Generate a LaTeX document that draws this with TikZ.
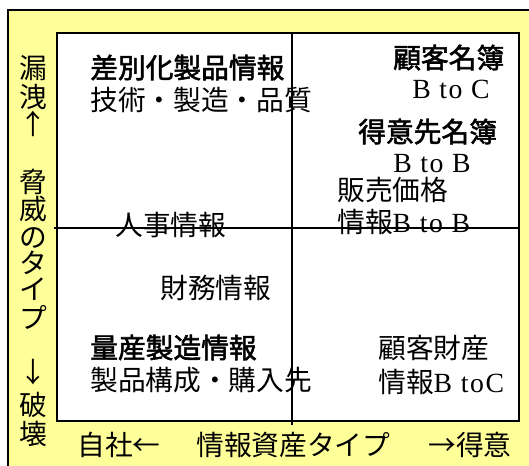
\documentclass[tikz,border=0pt]{standalone}
\usepackage{fontspec}
\setmainfont{Liberation Serif}
\newfontfamily\cjk{Noto Sans CJK JP}
\newfontfamily\cjkb{Noto Sans CJK JP}[BoldFont=*,AutoFakeBold=2]
\definecolor{bgyellow}{HTML}{FFFF99}
\newcommand{\lat}[1]{{\rmfamily\addfontfeatures{LetterSpace=6}#1}}
\begin{document}
\begin{tikzpicture}[x=0.75pt,y=-0.75pt,
  txt/.style={inner sep=0pt,font=\fontsize{20.8}{22}\selectfont\cjk,text height=0.88em,text depth=0.12em},
  btxt/.style={txt,font=\fontsize{20.8}{22}\selectfont\cjkb\bfseries},
  lbl/.style={txt,anchor=west},
  blbl/.style={btxt,anchor=west},
  frame/.style={draw=black,line width=1.6pt},
  axis/.style={draw=black,line width=1.4pt}]
\clip (0,0) rectangle (529,466);
\fill[white] (0,0) rectangle (529,466);
% outer yellow frame
\filldraw[fill=bgyellow,frame] (8,10) rectangle (560,500);
% inner white field
\filldraw[fill=white,frame] (57,33) rectangle (519,421);
% axes
\coordinate (vtop) at (292,33);
\coordinate (vbot) at (292,425);
\coordinate (hleft) at (54,228);
\coordinate (hright) at (519,228);
% left vertical label
\foreach \ch/\yy [count=\i] in {漏/73,洩/102,↑/129,脅/187,威/214,の/242,タ/268,イ/294,プ/323,↓/377,破/410,壊/439}{
  \node[txt] (v\i) at (33,\yy) {\ch};
}
% bottom label
\node[lbl] (b1) at (77,450) {自社←};
\node[lbl] (b2) at (196,450) {情報資産タイプ};
\node[lbl] (b3) at (428,450) {→得意};
% upper left
\node[blbl] (ul1) at (90,73) {差別化製品情報};
\node[lbl] (ul2) at (90,105) {技術・製造・品質};
% upper right
\node[blbl] (ur1) at (393,63) {顧客名簿};
\node[lbl] (ur2) at (412,93) {\lat{B to C}};
\node[blbl] (ur3) at (358,137) {得意先名簿};
\node[lbl] (ur4) at (393,167) {\lat{B to B}};
\node[lbl] (ur5) at (337,195) {販売価格};
\node[lbl] (ur6) at (337,227) {情報\lat{B to B}};
% lower left
\node[lbl] (ll1) at (115,230) {人事情報};
\node[lbl] (ll2) at (160,293) {財務情報};
\node[blbl] (ll3) at (90,353) {量産製造情報};
\node[lbl] (ll4) at (90,385) {製品構成・購入先};
% lower right
\node[lbl] (lr1) at (378,353) {顧客財産};
\node[lbl] (lr2) at (378,387) {情報\lat{B toC}};
% axes drawn on top
\draw[axis] (vtop) -- (vbot);
\draw[axis] (hleft) -- (hright);
\end{tikzpicture}
\end{document}
